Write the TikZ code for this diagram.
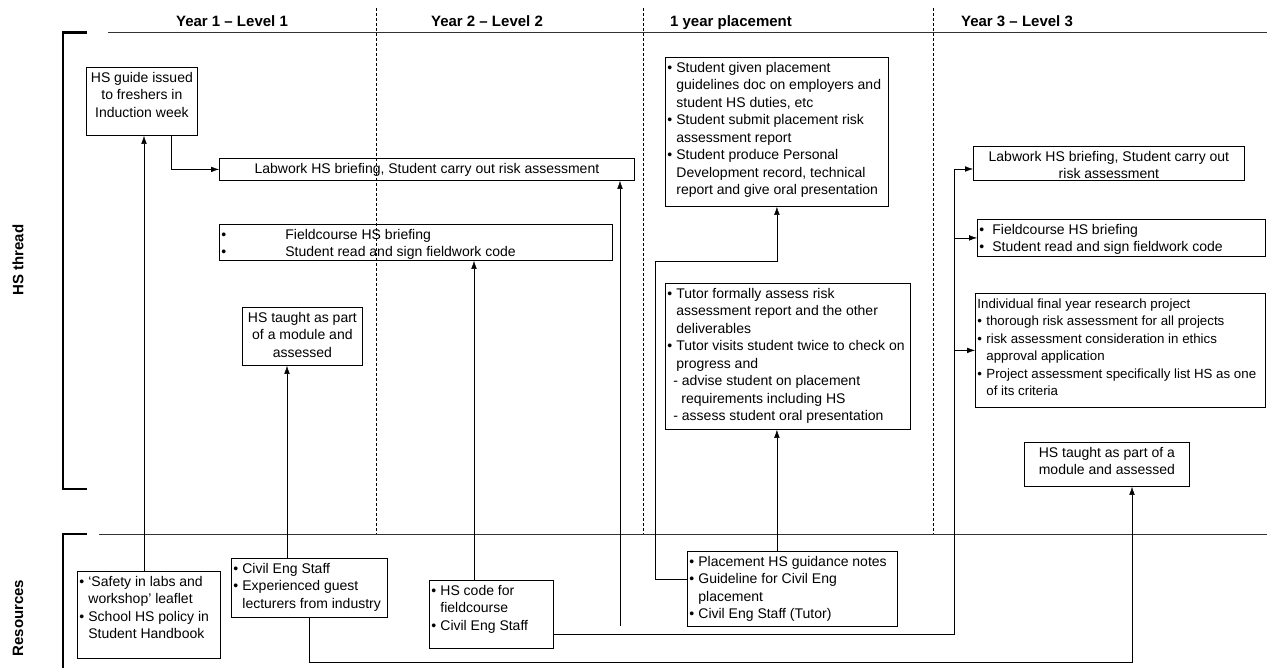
\documentclass[tikz,border=0pt]{standalone}
\usepackage{fontspec}
\setmainfont{Liberation Sans}
\usetikzlibrary{arrows.meta}
\tikzset{
	hs box/.style={
		draw,
		anchor=north west,
		inner xsep=2pt,
		inner ysep=0pt,
		line width=0.8pt
	},
	hs head/.style={
		font=\fontsize{15}{18}\selectfont\bfseries,
		anchor=base
	},
	hs rule/.style={line width=0.8pt, black!80},
	hs bracket/.style={line width=2.2pt},
	year sep/.style={dash pattern=on 3pt off 2pt, line width=0.6pt},
}
\newcommand{\hsbul}{\makebox[9pt][l]{\textbullet}}
\newcommand{\hsind}{\hspace*{9pt}}
\newcommand{\boxl}[3]{\parbox[t][#2pt][t]{#1pt}{\vspace*{2.5pt}\begin{tabular}[t]{@{}l@{}}#3\end{tabular}}}
\newcommand{\boxc}[3]{\parbox[t][#2pt][t]{#1pt}{\centering\vspace*{2.5pt}\begin{tabular}[t]{@{}c@{}}#3\end{tabular}}}

\begin{document}
\begin{tikzpicture}[x=1pt, y=-1pt, >={Latex[length=8pt, width=5.5pt]}, font=\fontsize{14}{17.5}\selectfont]
\useasboundingbox (0,0) rectangle (1267,668);

\foreach \l/\x [count=\i] in {Year 1 – Level 1/232, Year 2 – Level 2/487, 1 year placement/731, Year 3 – Level 3/1017}
	\node [hs head] (head-\i) at (\x,27) {\l};

\foreach \x in {376,643,933}
	\draw [year sep] (\x,8) -- (\x,534);

\draw [hs rule] (108,32.5) -- (1267,32.5);
\draw [hs rule] (99,534) -- (1267,534);
\draw [hs bracket] (87,32.5) -- (63,32.5) -- (63,489) -- (87,489);
\draw [hs bracket] (87,534) -- (63,534) -- (63,668);

\node [hs head, rotate=90, anchor=center] (thread) at (18,260) {HS thread};
\node [hs head, rotate=90, anchor=center] (resources) at (18,618) {Resources};

% HS thread
\node [hs box] (guide) at (86,67) {\boxc{107}{68}{HS guide issued\\to freshers in\\Induction week}};
\node [hs box] (lab-1) at (219,158) {\boxc{411}{22}{Labwork HS briefing, Student carry out risk assessment}};
\node [hs box] (field-1) at (219,224) {\boxl{389}{36}{\makebox[64pt][l]{\textbullet}Fieldcourse HS briefing\\\makebox[64pt][l]{\textbullet}Student read and sign fieldwork code}};
\node [hs box] (taught-1) at (242,307) {\boxc{116}{58}{HS taught as part\\of a module and\\assessed}};
\node [hs box] (placement) at (665,57) {\boxl{219}{149}{\hsbul Student given placement\\\hsind guidelines doc on employers and\\\hsind student HS duties, etc\\\hsbul Student submit placement risk\\\hsind assessment report\\\hsbul Student produce Personal\\\hsind Development record, technical\\\hsind report and give oral presentation}};
\node [hs box] (tutor) at (665,283) {\boxl{241}{146}{\hsbul Tutor formally assess risk\\\hsind assessment report and the other\\\hsind deliverables\\\hsbul Tutor visits student twice to check on\\\hsind progress and\\\hspace*{6pt}- advise student on placement\\\hspace*{14pt}requirements including HS\\\hspace*{6pt}- assess student oral presentation}};
\node [hs box] (lab-3) at (973,146) {\boxc{267}{34}{Labwork HS briefing, Student carry out\\risk assessment}};
\node [hs box] (field-3) at (977,219) {\boxl{284}{37}{\makebox[13pt][l]{\textbullet}Fieldcourse HS briefing\\\makebox[13pt][l]{\textbullet}Student read and sign fieldwork code}};
\node [hs box, font=\fontsize{13.3}{17.5}\selectfont] (project) at (975,293) {\boxl{286}{114}{Individual final year research project\\\hsbul thorough risk assessment for all projects\\\hsbul risk assessment consideration in ethics\\\hsind approval application\\\hsbul Project assessment specifically list HS as one\\\hsind of its criteria}};
\node [hs box] (taught-3) at (1024,442) {\boxc{161}{44}{HS taught as part of a\\module and assessed}};

% resources
\node [hs box] (safety) at (77,571) {\boxl{139}{87}{\hsbul ‘Safety in labs and\\\hsind workshop’ leaflet\\\hsbul School HS policy in\\\hsind Student Handbook}};
\node [hs box] (staff) at (231,558) {\boxl{152}{59}{\hsbul Civil Eng Staff\\\hsbul Experienced guest\\\hsind lecturers from industry}};
\node [hs box] (code) at (429,580) {\boxl{120}{68}{\hsbul HS code for\\\hsind fieldcourse\\\hsbul Civil Eng Staff}};
\node [hs box] (guidance) at (687,551) {\boxl{206}{75}{\hsbul Placement HS guidance notes\\\hsbul Guideline for Civil Eng\\\hsind placement\\\hsbul Civil Eng Staff (Tutor)}};

\coordinate (lab-feed) at (620,626);
\coordinate (place-turn) at (655,261);
\coordinate (bus) at (954,169);
\coordinate (module-turn) at (1132,662);

\draw [->] ([xshift=85pt]guide.south west) |- (lab-1);
\draw [->] ([xshift=67pt]safety.north west) coordinate (s) -- (s |- guide.south);
\draw [->] ([xshift=56pt]staff.north west) coordinate (t) -- (t |- taught-1.south);
\draw [->] ([xshift=45pt]code.north west) coordinate (c) -- (c |- field-1.south);
\draw [->] (lab-feed) -- (lab-feed |- lab-1.south);
\draw [->] ([yshift=-28pt]guidance.north west) -| (place-turn) -| (placement.south);
\draw [->] (guidance.north -| placement.south) -- (tutor.south -| placement.south);
\draw [->] ([yshift=-54pt]code.north east) -| (bus) -- (bus -| lab-3.west);
\draw [->] (bus |- field-3) -- (field-3);
\draw [->] (bus |- project) -- (project);
\draw [->] (staff.south) |- (module-turn) -- (module-turn |- taught-3.south);

\end{tikzpicture}
\end{document}
